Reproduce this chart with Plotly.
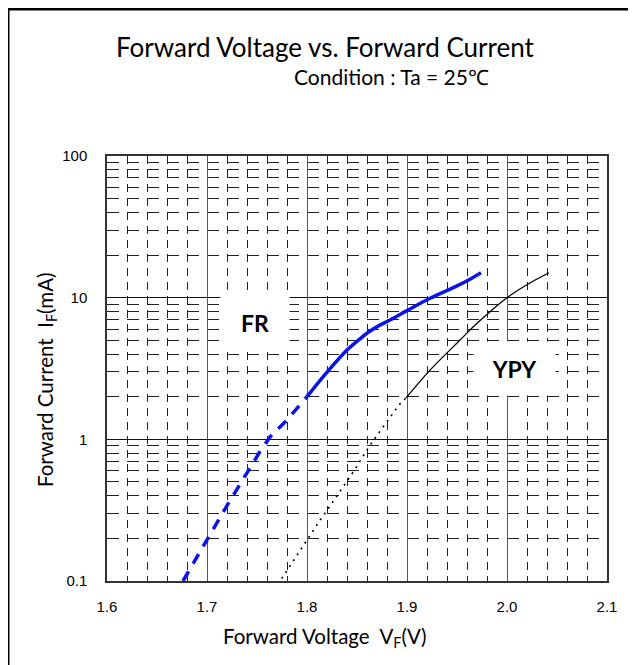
import plotly.graph_objects as go

# ---- data ----
fr_dash_v = [1.676, 1.698, 1.721, 1.738, 1.753, 1.763, 1.780, 1.800]
fr_dash_i = [0.100, 0.185, 0.350, 0.550, 0.820, 1.040, 1.370, 2.000]
fr_solid_v = [1.800, 1.819, 1.840, 1.852, 1.862, 1.872, 1.883, 1.900, 1.923, 1.950, 1.963, 1.974]
fr_solid_i = [2.00, 2.92, 4.27, 5.05, 5.75, 6.35, 6.95, 8.10, 9.90, 12.1, 13.5, 15.0]

ypy_dot_v = [1.7747, 1.785, 1.8013, 1.812, 1.823, 1.834, 1.847, 1.863, 1.892, 1.899]
ypy_dot_i = [0.104, 0.135, 0.200, 0.262, 0.338, 0.439, 0.600, 0.910, 1.75, 1.96]
ypy_solid_v = [1.899, 1.923, 1.953, 1.970, 2.000, 2.022, 2.042]
ypy_solid_i = [1.96, 3.08, 5.02, 6.59, 10.0, 12.6, 15.0]

x_ticks = [1.6, 1.7, 1.8, 1.9, 2.0, 2.1]
x_ticktext = ["1.6", "1.7", "1.8", "1.9", "2.0", "2.1"]
y_ticks = [0.1, 1, 10, 100]
y_ticktext = ["0.1", "1", "10", "100"]

TITLE_FONT = "Lato"
TICK_FONT = "Liberation Sans Narrow, Liberation Sans, Arial, sans-serif"

fig = go.Figure()
fig.add_trace(go.Scatter(x=fr_dash_v, y=fr_dash_i, mode="lines",
                         line=dict(color="#0a14e6", width=3.5, dash="11px,9px"),
                         showlegend=False, hoverinfo="skip"))
fig.add_trace(go.Scatter(x=fr_solid_v, y=fr_solid_i, mode="lines",
                         line=dict(color="#0a14e6", width=3.5, shape="spline", smoothing=1.0),
                         showlegend=False, hoverinfo="skip"))
fig.add_trace(go.Scatter(x=ypy_dot_v, y=ypy_dot_i, mode="lines",
                         line=dict(color="black", width=1.6, dash="2px,5px"),
                         showlegend=False, hoverinfo="skip"))
fig.add_trace(go.Scatter(x=ypy_solid_v, y=ypy_solid_i, mode="lines",
                         line=dict(color="black", width=1.3, shape="spline", smoothing=0.8),
                         showlegend=False, hoverinfo="skip"))

# page has an 8px body margin: figure is placed at (8, 8)
OFF = 8
W, H = 636 - OFF, 665 - OFF
L, T = 107 - OFF, 156 - OFF
R = W - (607 - OFF)
B = H - (581 - OFF)
PW, PH = W - L - R, H - T - B


def px(xp):  # reference pixel x -> paper
    return (xp - OFF - L) / PW


def py(yp):  # reference pixel y -> paper
    return (H - B - (yp - OFF)) / PH


fig.update_layout(
    width=W, height=H,
    margin=dict(l=L, r=R, t=T, b=B, pad=0),
    paper_bgcolor="white", plot_bgcolor="white",
    showlegend=False,
    xaxis=dict(
        range=[1.6, 2.1], tickvals=x_ticks, ticktext=x_ticktext,
        showgrid=True, gridcolor="#555555", gridwidth=1,
        minor=dict(dtick=0.02, showgrid=True, gridcolor="#222222", gridwidth=1,
                   griddash="8px,6px", ticks=""),
        showline=True, mirror=True, linecolor="#333333", linewidth=1.5,
        ticks="", ticklabelstandoff=11,
        tickfont=dict(family=TICK_FONT, size=15, color="black"),
        zeroline=False, fixedrange=True,
    ),
    yaxis=dict(
        type="log", range=[-1, 2], tickvals=y_ticks, ticktext=y_ticktext,
        showgrid=True, gridcolor="#111111", gridwidth=1,
        minor=dict(dtick="D1", showgrid=True, gridcolor="#222222", gridwidth=1,
                   griddash="12px,8px", ticks=""),
        showline=True, mirror=True, linecolor="#333333", linewidth=1.5,
        ticks="", ticklabelstandoff=15,
        tickfont=dict(family=TICK_FONT, size=15, color="black"),
        zeroline=False, fixedrange=True,
    ),
    shapes=[dict(type="rect", xref="paper", yref="paper",
                 x0=px(8), x1=px(680), y0=py(720), y1=py(9),
                 line=dict(color="black", width=3), fillcolor="rgba(0,0,0,0)",
                 layer="above")],
    annotations=[
        dict(text="Forward Voltage vs. Forward Current", xref="paper", yref="paper",
             x=px(325), y=py(47), showarrow=False, xanchor="center", yanchor="middle",
             font=dict(family=TITLE_FONT, size=26, color="black")),
        dict(text="Condition : Ta = 25℃", xref="paper", yref="paper",
             x=px(391), y=py(76), showarrow=False, xanchor="center", yanchor="middle",
             font=dict(family=TITLE_FONT, size=21, color="black")),
        dict(text="Forward Voltage  V<sub>F</sub>(V)", xref="paper", yref="paper",
             x=px(325), y=py(637), showarrow=False, xanchor="center", yanchor="middle",
             font=dict(family=TITLE_FONT, size=20.5, color="black")),
        dict(text="Forward Current  I<sub>F</sub>(mA)", xref="paper", yref="paper",
             x=px(46), y=py(380), showarrow=False, xanchor="center", yanchor="middle",
             textangle=-90,
             font=dict(family=TITLE_FONT, size=20.5, color="black")),
        dict(text="<b>FR</b>", xref="x", yref="y", x=1.7484, y=0.821,
             showarrow=False, xanchor="center", yanchor="middle",
             width=66, height=54, bgcolor="white",
             font=dict(family=TITLE_FONT, size=23, color="black")),
        dict(text="<b>YPY</b>", xref="x", yref="y", x=2.0075, y=0.4996,
             showarrow=False, xanchor="center", yanchor="middle",
             width=79, height=51, bgcolor="white",
             font=dict(family=TITLE_FONT, size=23, color="black")),
    ],
)

fig.write_html("out.html")
